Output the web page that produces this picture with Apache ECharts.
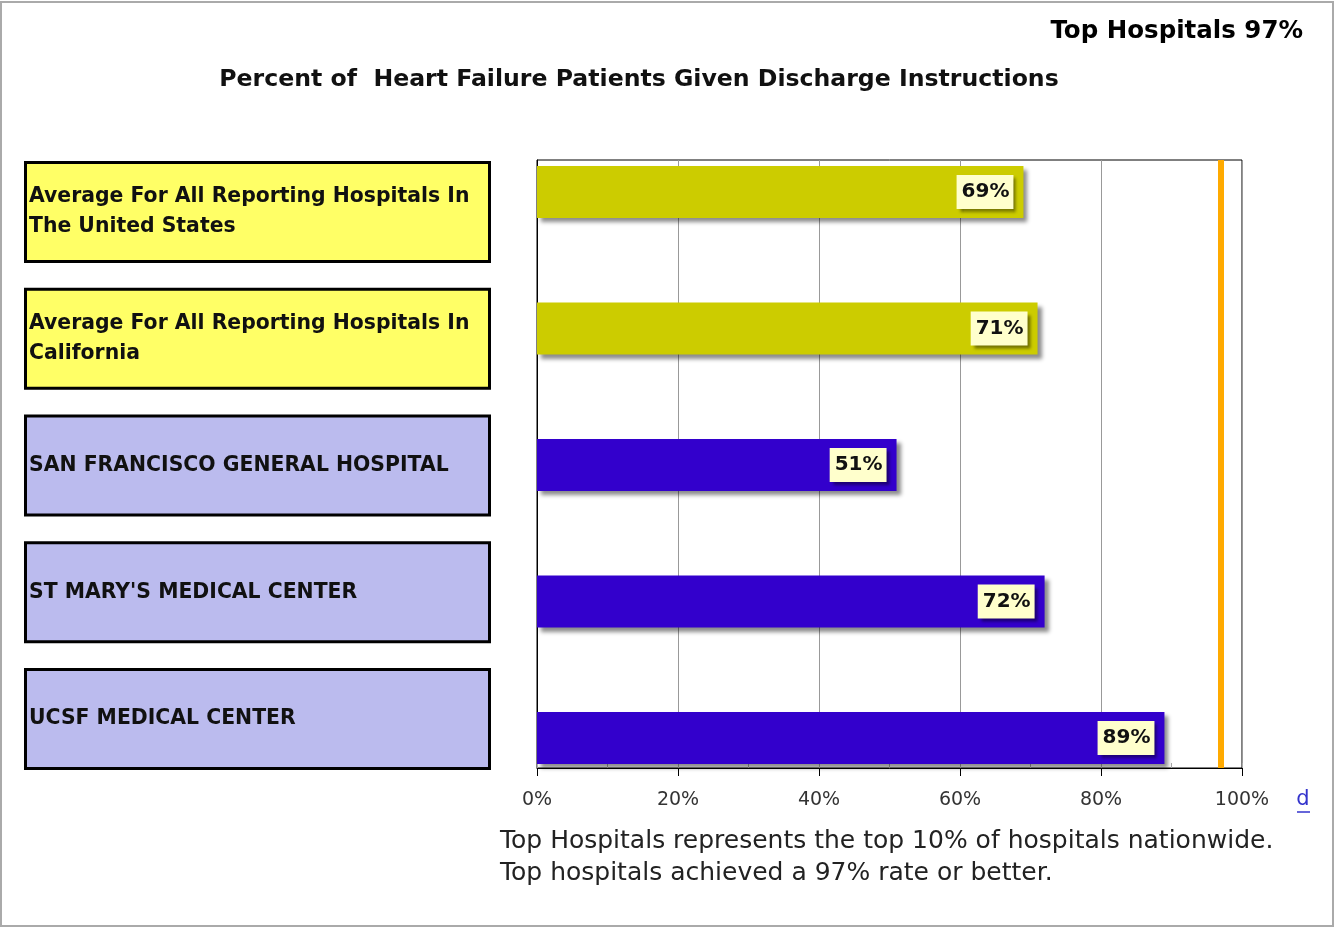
<!DOCTYPE html>
<html><head><meta charset="utf-8">
<script src="https://cdn.jsdelivr.net/npm/echarts@6/dist/echarts.min.js"></script>
<style>html,body{margin:0;padding:0;background:#fff}#c{width:1335px;height:928px}</style>
</head><body><div id="c"></div>
<script>
const categories = [
  "Average For All Reporting Hospitals In\nThe United States",
  "Average For All Reporting Hospitals In\nCalifornia",
  "SAN FRANCISCO GENERAL HOSPITAL",
  "ST MARY'S MEDICAL CENTER",
  "UCSF MEDICAL CENTER"
];
const values = [69, 71, 51, 72, 89];
const isAverage = [true, true, false, false, false];
const topHospitals = 97;
const xTicks = [0, 20, 40, 60, 80, 100];

const chart = echarts.init(document.getElementById('c'), null, {renderer: 'canvas'});
const FONT = 'DejaVu Sans';
const BOLD = 'DejaVu Sans';

const barData = values.map((v, i) => ({
  value: v,
  itemStyle: {color: isAverage[i] ? '#cccc00' : '#3300cc'}
}));
const boxData = categories.map((c, i) => ({
  value: 1,
  itemStyle: {color: isAverage[i] ? '#ffff66' : '#bbbbee'}
}));

chart.setOption({
  animation: false,
  grid: [
    // frame with axes
    {left: 537, top: 160, width: 705, height: 608, show: true, borderColor: '#000', borderWidth: 1, backgroundColor: 'transparent'},
    // label boxes
    {left: 24, top: 148.6, width: 467, height: 633.75},
    // bars
    {left: 537, top: 123.75, width: 705, height: 682.5}
  ],
  xAxis: [
    {gridIndex: 0, type: 'value', min: 0, max: 100, interval: 20,
     axisLine: {show: true, lineStyle: {color: '#000'}},
     axisTick: {show: true, length: 8, lineStyle: {color: '#000'}},
     axisLabel: {formatter: v => xTicks.includes(v) ? v + '%' : '', fontFamily: FONT, fontSize: 19, color: '#333', margin: 23},
     splitLine: {show: true, lineStyle: {color: '#999', width: 1}}},
    {gridIndex: 0, type: 'value', min: 0, max: 100, interval: 10, position: 'bottom',
     axisLine: {show: false}, axisTick: {show: true, inside: true, length: 5, lineStyle: {color: '#aaa'}},
     axisLabel: {show: false}, splitLine: {show: false}},
    {gridIndex: 1, type: 'value', min: 0, max: 1, show: false},
    {gridIndex: 2, type: 'value', min: 0, max: 100, show: false}
  ],
  yAxis: [
    {gridIndex: 0, type: 'value', min: 0, max: 1,
     axisLine: {show: true, lineStyle: {color: '#000'}}, axisTick: {show: false}, axisLabel: {show: false}, splitLine: {show: false}},
    {gridIndex: 1, type: 'category', data: categories, inverse: true, show: false},
    {gridIndex: 2, type: 'category', data: categories, inverse: true, show: false}
  ],
  series: [
    {type: 'line', xAxisIndex: 0, yAxisIndex: 0, data: [], silent: true,
     markLine: {silent: true, symbol: 'none', label: {show: false}, animation: false,
       lineStyle: {color: '#ffaa00', width: 6, type: 'solid'},
       data: [{xAxis: topHospitals}]}},
    {type: 'bar', xAxisIndex: 3, yAxisIndex: 2, data: barData, barWidth: 52,
     itemStyle: {shadowColor: 'rgba(0,0,0,0.45)', shadowBlur: 4, shadowOffsetX: 4, shadowOffsetY: 4},
     label: {show: true, position: 'insideRight', distance: 10, formatter: p => p.value + '%',
       fontFamily: BOLD, fontWeight: 'bold', fontSize: 20, color: '#111',
       backgroundColor: '#ffffcc', padding: [8, 4, 6, 5],
       shadowColor: 'rgba(0,0,0,0.45)', shadowBlur: 3, shadowOffsetX: 3, shadowOffsetY: 3}},
    {type: 'bar', xAxisIndex: 2, yAxisIndex: 1, data: boxData, barWidth: 102,
     itemStyle: {borderColor: '#000', borderWidth: 3},
     label: {show: true, position: 'insideLeft', distance: 5, formatter: p => p.name,
       fontFamily: BOLD, fontWeight: 'bold', fontSize: 20.4, color: '#111', lineHeight: 30}}
  ],
  graphic: [
    {type: 'rect', shape: {x: 1, y: 2, width: 1332, height: 924}, style: {fill: 'none', stroke: '#aaa', lineWidth: 2}, silent: true},
    {type: 'text', x: 1303, y: 32, style: {text: 'Top Hospitals ' + topHospitals + '%', font: 'bold 24.5px "DejaVu Sans"', fill: '#000', textAlign: 'right', textVerticalAlign: 'middle'}},
    {type: 'text', x: 639, y: 80, style: {text: 'Percent of  Heart Failure Patients Given Discharge Instructions', font: 'bold 23.6px "DejaVu Sans"', fill: '#111', textAlign: 'center', textVerticalAlign: 'middle'}},
    {type: 'text', x: 500, y: 841, style: {text: 'Top Hospitals represents the top 10% of hospitals nationwide.', font: '25px "DejaVu Sans"', fill: '#222', textVerticalAlign: 'middle'}},
    {type: 'text', x: 500, y: 873, style: {text: 'Top hospitals achieved a ' + topHospitals + '% rate or better.', font: '25px "DejaVu Sans"', fill: '#222', textVerticalAlign: 'middle'}},
    {type: 'text', x: 1303, y: 800, style: {text: 'd', font: '21px "DejaVu Sans"', fill: '#3333cc', textAlign: 'center', textVerticalAlign: 'middle'}},
    {type: 'line', shape: {x1: 1297, y1: 812, x2: 1310, y2: 812}, style: {stroke: '#3333cc', lineWidth: 1.5}}
  ]
});
</script></body></html>
